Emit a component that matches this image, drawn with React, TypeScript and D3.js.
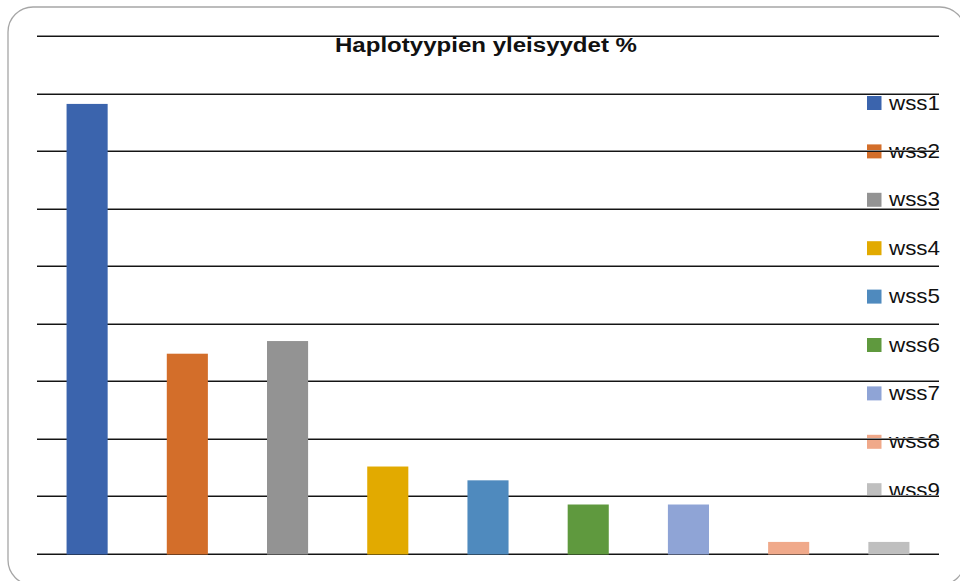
import React from "react";
import * as d3 from "d3";

// Haplotype frequencies (%)
const categories = ["wss1", "wss2", "wss3", "wss4", "wss5", "wss6", "wss7", "wss8", "wss9"];
const values = [39.1, 17.4, 18.5, 7.6, 6.4, 4.3, 4.3, 1.05, 1.05];
const colors = ["#3b64ad", "#d36e2a", "#939393", "#e2aa00", "#4f8abe", "#5f993e", "#8fa4d6", "#f0a98a", "#bfbfbf"];
const yTicks = [0, 5, 10, 15, 20, 25, 30, 35, 40, 45];
const title = "Haplotyypien yleisyydet %";

const W = 960;
const H = 581;
const plot = { left: 37, right: 939, top: 36, bottom: 554 };

export default function App() {
  const x = d3
    .scaleBand<string>()
    .domain(categories)
    .range([plot.left, plot.right])
    .paddingInner(0.59)
    .paddingOuter(0.295);
  const y = d3.scaleLinear().domain([0, 45]).range([plot.bottom, plot.top]);

  const legendX = 867;
  const legendY0 = 96;
  const legendStep = 48.4;

  return (
    <svg
      width={W}
      height={H}
      style={{ position: "absolute", left: 0, top: 0, display: "block", background: "#fff" }}
      fontFamily="'Liberation Sans', Arial, sans-serif"
    >
      <rect x={8} y={7} width={957} height={578} rx={25} ry={25} fill="#fff" stroke="#a6a6a6" strokeWidth={1.3} />

      {/* legend (gridlines are drawn over it) */}
      <g>
        {categories.map((c, i) => {
          const yy = legendY0 + i * legendStep;
          return (
            <g key={c}>
              <rect x={legendX} y={yy} width={14.5} height={14} fill={colors[i]} />
              <text x={889} y={yy + 13.5} fontSize={21} fill="#111" textLength={51} lengthAdjust="spacingAndGlyphs">
                {c}
              </text>
            </g>
          );
        })}
      </g>

      <text
        x={486}
        y={52}
        textAnchor="middle"
        fontWeight="bold"
        fontSize={20}
        fill="#111"
        textLength={302}
        lengthAdjust="spacingAndGlyphs"
      >
        {title}
      </text>

      {/* horizontal gridlines */}
      <g>
        {yTicks.map((t) => {
          const yy = Math.round(y(t));
          return (
            <g key={t}>
              <line x1={plot.left} x2={plot.right} y1={yy - 0.5} y2={yy - 0.5} stroke="#8c8c8c" strokeWidth={1} />
              <line x1={plot.left} x2={plot.right} y1={yy + 0.5} y2={yy + 0.5} stroke="#141414" strokeWidth={1} />
            </g>
          );
        })}
      </g>

      {/* bars */}
      <g>
        {categories.map((c, i) => (
          <rect
            key={c}
            x={x(c)}
            y={y(values[i])}
            width={x.bandwidth()}
            height={y(0) - y(values[i]) + 0.5}
            fill={colors[i]}
          />
        ))}
      </g>
    </svg>
  );
}
